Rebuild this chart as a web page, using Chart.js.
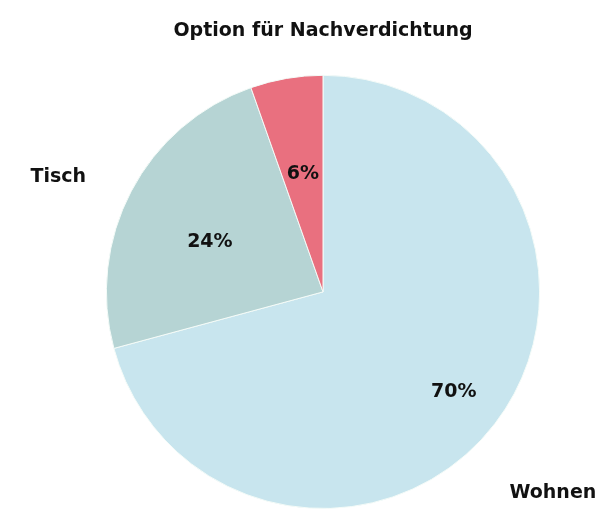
<!DOCTYPE html>
<html>
<head>
  <meta charset="utf-8">
  <script src="https://cdn.jsdelivr.net/npm/chart.js"></script>
  <style>
    html, body { margin: 0; padding: 0; background: #ffffff; }
    #wrap { width: 601px; height: 519px; }
  </style>
</head>
<body>
  <div id="wrap"><canvas id="chartPie"></canvas></div>

  <script>
    // Daten
    const kategorien = ['Wohnen', 'Tisch', ''];
    const anteile = [70.8, 23.8, 5.4];
    const prozentTexte = ['70%', '24%', '6%'];
    const farben = ['#c8e5ee', '#b6d4d4', '#e9707f'];

    // Beschriftungen innen (Prozent) und aussen (Kategorie)
    const innenRadius = [0.76, 0.59, 0.55];
    const labelPlugin = {
      id: 'sliceLabels',
      afterDatasetsDraw(chart) {
        const ctx = chart.ctx;
        const meta = chart.getDatasetMeta(0);
        ctx.save();
        ctx.fillStyle = '#111';
        ctx.textAlign = 'center';
        ctx.textBaseline = 'middle';
        ctx.font = 'bold 19px "DejaVu Sans"';
        meta.data.forEach((arc, i) => {
          const p = arc.getProps(['x', 'y', 'startAngle', 'endAngle', 'outerRadius'], true);
          const mid = (p.startAngle + p.endAngle) / 2;
          const rIn = p.outerRadius * innenRadius[i];
          ctx.fillText(prozentTexte[i], p.x + Math.cos(mid) * rIn, p.y + Math.sin(mid) * rIn + (i === 1 ? 10 : 0));
          if (kategorien[i]) {
            const rOut = p.outerRadius * 1.36;
            ctx.fillText(kategorien[i], p.x + Math.cos(mid) * rOut - 4, p.y + Math.sin(mid) * rOut + 22);
          }
        });
        ctx.restore();
      }
    };

    new Chart(document.getElementById('chartPie'), {
      type: 'pie',
      data: {
        labels: kategorien,
        datasets: [{
          data: anteile,
          backgroundColor: farben,
          borderColor: '#f4fbf8',
          borderWidth: 1
        }]
      },
      options: {
        responsive: true,
        maintainAspectRatio: false,
        animation: false,
        layout: { padding: { left: 45, right: 0, top: 0, bottom: 10 } },
        plugins: {
          legend: { display: false },
          tooltip: { enabled: false },
          title: {
            display: true,
            text: 'Option für Nachverdichtung',
            color: '#111',
            font: { family: 'DejaVu Sans', size: 19, weight: 'bold' },
            padding: { top: 20, bottom: 32 }
          }
        }
      },
      plugins: [labelPlugin]
    });
  </script>
</body>
</html>
